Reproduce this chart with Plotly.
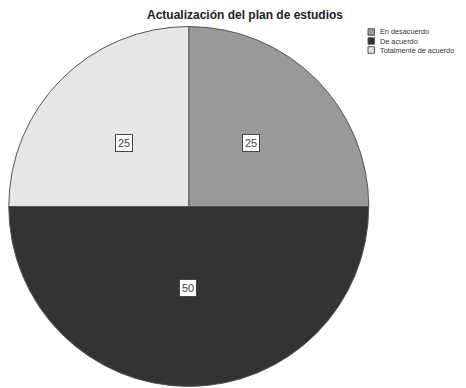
import math
import plotly.graph_objects as go

labels = ["En desacuerdo", "De acuerdo", "Totalmente de acuerdo"]
values = [25, 50, 25]
colors = ["#999999", "#333333", "#e6e6e6"]
title = "Actualización del plan de estudios"

OFF = 8  # page body margin
W, H = 466 - OFF, 388 - OFF
cx, cy, r = 187.5 - OFF, 206.5 - OFF, 180.0
FONT = "Liberation Sans, Arial, sans-serif"


def px(x):
    return (x - OFF) / W


def py(y):
    return 1 - (y - OFF) / H


fig = go.Figure()
fig.add_trace(go.Pie(
    labels=labels, values=values, sort=False, direction="clockwise", rotation=0,
    marker=dict(colors=colors, line=dict(color="#555555", width=1)),
    textinfo="none", hoverinfo="label+value",
    domain=dict(x=[max(0, (cx - r - 2)) / W, min(W, cx + r + 2) / W],
                y=[(H - cy - r) / H, (H - cy + r) / H]),
))

# boxed value labels placed at slice mid-angles
total = sum(values)
cum = 0
for v in values:
    frac = v / total
    mid = (cum + v / 2) / total * 2 * math.pi
    cum += v
    d = r * (0.55 - 0.2 * frac)
    ax = cx + d * math.sin(mid)
    ay = cy - d * math.cos(mid)
    fig.add_annotation(x=ax / W, y=1 - ay / H, xref="paper", yref="paper",
                       xanchor="center", yanchor="middle",
                       text=str(v), showarrow=False,
                       font=dict(family=FONT, size=11, color="#444444"),
                       bgcolor="white", bordercolor="#444444", borderwidth=1, borderpad=2)

# manual compact legend (page coordinates)
lx, ly0, step, sq = 368, 32, 9, 6.5
for i, (lab, col) in enumerate(zip(labels, colors)):
    yc = ly0 + i * step
    fig.add_shape(type="rect", xref="paper", yref="paper",
                  x0=px(lx), x1=px(lx + sq),
                  y0=py(yc + sq / 2), y1=py(yc - sq / 2),
                  fillcolor=col, line=dict(color="#555555", width=1))
    fig.add_annotation(x=px(lx + sq + 3), y=py(yc), xref="paper", yref="paper",
                       xanchor="left", yanchor="middle", text=lab, showarrow=False,
                       font=dict(family=FONT, size=7.3, color="#333333"))

fig.update_layout(
    width=W, height=H,
    margin=dict(l=0, r=0, t=0, b=0),
    paper_bgcolor="white", plot_bgcolor="white",
    title=dict(text="<b>" + title + "</b>", x=px(245), xanchor="center", y=py(15), yanchor="middle",
               font=dict(family=FONT, size=12, color="#222222")),
    showlegend=False,
)

fig.write_html("out.html")
